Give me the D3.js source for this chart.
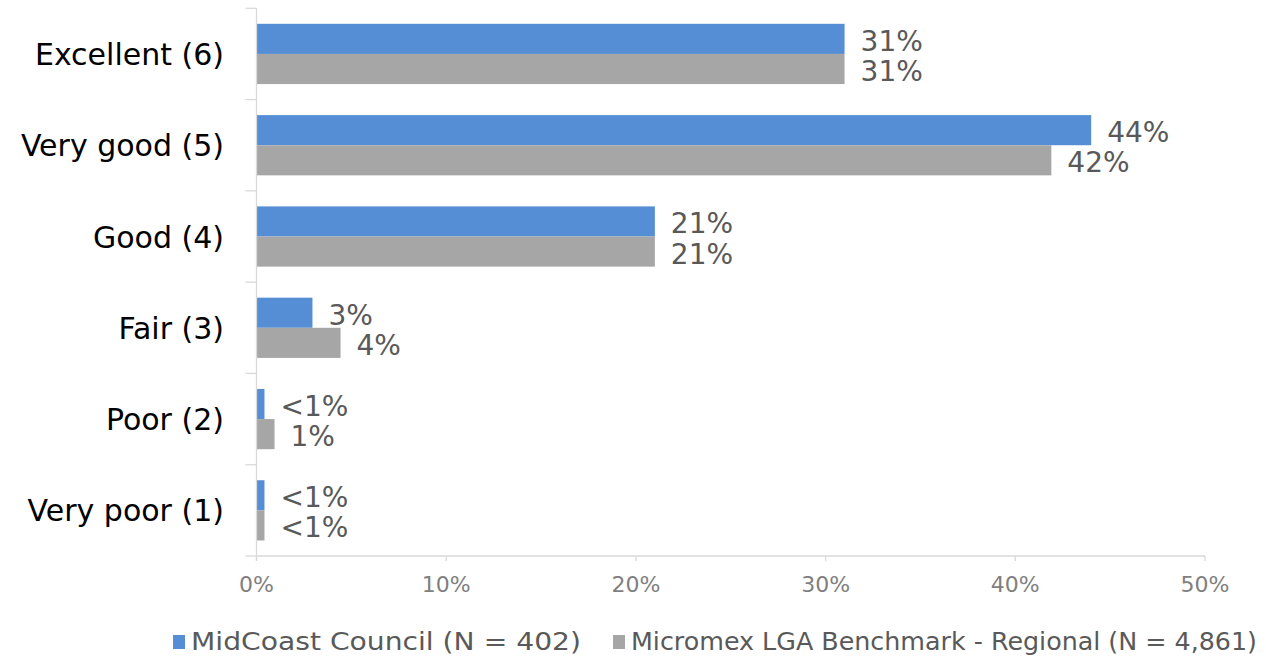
<!DOCTYPE html>
<html>
<head>
<meta charset="utf-8">
<script src="https://cdn.jsdelivr.net/npm/d3@7"></script>
<style>
  html, body { margin: 0; padding: 0; background: #fff; }
  svg { display: block; font-family: "Century Gothic", "DejaVu Sans", sans-serif; }
</style>
</head>
<body>
<svg id="chart" width="1266" height="657"></svg>
<script>
// Ratings, top to bottom
const categories = ["Excellent (6)", "Very good (5)", "Good (4)", "Fair (3)", "Poor (2)", "Very poor (1)"];
// Share of respondents (%) per rating
const councilValues = [31, 44, 21, 2.95, 0.42, 0.42];
const councilLabels = ["31%", "44%", "21%", "3%", "<1%", "<1%"];
const benchmarkValues = [31, 41.9, 21, 4.43, 0.95, 0.42];
const benchmarkLabels = ["31%", "42%", "21%", "4%", "1%", "<1%"];
const seriesNames = ["MidCoast Council (N = 402)", "Micromex LGA Benchmark - Regional (N = 4,861)"];
const seriesColors = ["#558ed5", "#a6a6a6"];
const xTicks = [0, 10, 20, 30, 40, 50];

const svg = d3.select("#chart");
const plotLeft = 256.5, plotRight = 1205, plotTop = 8.3, plotBottom = 556;

const x = d3.scaleLinear().domain([0, 50]).range([plotLeft, plotRight]);
const y = d3.scaleBand().domain(categories).range([plotTop, plotBottom]).paddingInner(0.34).paddingOuter(0.17);
const sub = d3.scaleBand().domain([0, 1]).range([0, y.bandwidth()]);

const grid = "#d9d9d9";
const g = svg.append("g");

// Category boundary ticks on the left
const step = y.step();
categories.concat(["end"]).forEach((c, i) => {
  const yy = plotTop + i * step;
  g.append("line").attr("x1", plotLeft - 11).attr("x2", plotLeft).attr("y1", yy).attr("y2", yy)
    .attr("stroke", grid).attr("stroke-width", 1.3);
});
// Bottom axis line and ticks
g.append("line").attr("x1", plotLeft).attr("x2", plotRight).attr("y1", plotBottom).attr("y2", plotBottom)
  .attr("stroke", grid).attr("stroke-width", 1.3);
xTicks.forEach(t => {
  g.append("line").attr("x1", x(t)).attr("x2", x(t)).attr("y1", plotBottom).attr("y2", plotBottom + 5)
    .attr("stroke", grid).attr("stroke-width", 1.3);
  g.append("text").attr("x", x(t)).attr("y", plotBottom + 36).attr("text-anchor", "middle")
    .attr("font-size", 22).attr("fill", "#7f7f7f").text(t + "%");
});

// Bars
const series = [
  { values: councilValues, labels: councilLabels },
  { values: benchmarkValues, labels: benchmarkLabels }
];
series.forEach((s, si) => {
  categories.forEach((c, i) => {
    const by = y(c) + sub(si);
    g.append("rect").attr("x", x(0)).attr("y", by)
      .attr("width", x(s.values[i]) - x(0)).attr("height", sub.bandwidth())
      .attr("fill", seriesColors[si]);
    g.append("text").attr("x", x(s.values[i]) + 16).attr("y", by + sub.bandwidth() / 2 + 12)
      .attr("font-size", 28).attr("fill", "#595959").text(s.labels[i]);
  });
});

// Vertical axis line
g.append("line").attr("x1", plotLeft).attr("x2", plotLeft).attr("y1", plotTop).attr("y2", plotBottom + 5)
  .attr("stroke", grid).attr("stroke-width", 1.3);

// Category labels
categories.forEach(c => {
  g.append("text").attr("x", 224).attr("y", y(c) + y.bandwidth() / 2 + 11)
    .attr("text-anchor", "end").attr("font-size", 30).attr("fill", "#000").text(c);
});

// Legend
const legendX = [173, 613];
const legendWidths = [390, 626];
seriesNames.forEach((n, i) => {
  svg.append("rect").attr("x", legendX[i]).attr("y", 635).attr("width", 12).attr("height", 14)
    .attr("fill", seriesColors[i]);
  svg.append("text").attr("x", legendX[i] + 18).attr("y", 650)
    .attr("font-size", 24).attr("fill", "#595959")
    .attr("textLength", legendWidths[i]).attr("lengthAdjust", "spacingAndGlyphs")
    .text(n);
});
</script>
</body>
</html>
